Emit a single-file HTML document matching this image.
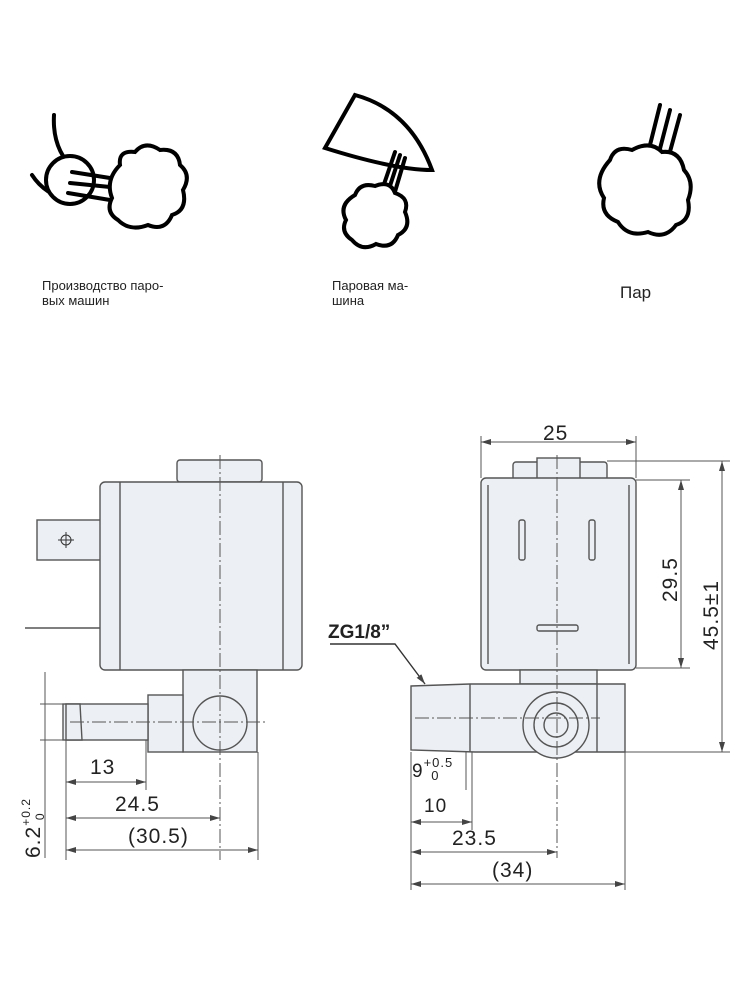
<!DOCTYPE html>
<html><head><meta charset="utf-8"><style>
body{margin:0;background:#fff;width:750px;height:1000px;overflow:hidden}
svg{display:block}
</style></head><body>
<svg width="750" height="1000" viewBox="0 0 750 1000" xmlns="http://www.w3.org/2000/svg" font-family="Liberation Sans, DejaVu Sans, sans-serif">
<defs>
<marker id="a" viewBox="0 0 10 6" refX="10" refY="3" markerWidth="10" markerHeight="6" markerUnits="userSpaceOnUse" orient="auto-start-reverse"><path d="M0 0L10 3L0 6Z" fill="#444"/></marker>
</defs>
<!-- icons -->
<g fill="none" stroke="#000" stroke-width="4" stroke-linecap="round">
<path d="M54 115 Q52 150 75 170"/>
<path d="M32 175 Q45 195 70 200"/>
<circle cx="70" cy="180" r="24" fill="#fff"/>
<path d="M72 172 L110 178 M70 183 L110 187 M68 193 L110 200"/>
<path d="M120 165 Q118 150 135 152 Q145 140 160 150 Q178 148 180 165 Q192 175 183 190 Q188 210 172 215 Q165 232 148 225 Q130 232 118 220 Q105 212 112 198 Q105 180 120 165Z" fill="#fff"/>
<path d="M355 95 Q410 110 432 170 Q395 170 325 148 Z" fill="#fff"/>
<path d="M395 152 L382 190 M400 155 L388 192 M405 158 L394 195"/>
<path d="M355 195 Q360 182 375 186 Q390 180 395 193 Q410 198 405 212 Q412 228 398 235 Q392 250 376 244 Q362 252 352 240 Q340 232 346 220 Q338 205 355 195Z" fill="#fff"/>
<path d="M660 105 L645 165 M670 110 L655 168 M680 115 L665 170" />
<path d="M610 160 Q615 145 632 150 Q650 140 662 152 Q680 150 684 170 Q695 182 688 200 Q692 220 676 225 Q665 240 648 232 Q628 238 618 222 Q600 215 604 198 Q592 180 610 160Z" fill="#fff"/>
</g>
<g font-size="13" fill="#222">
<text x="42" y="290">Производство паро-</text><text x="42" y="305">вых машин</text>
<text x="332" y="290">Паровая ма-</text><text x="332" y="305">шина</text>
<text x="620" y="298" font-size="17">Пар</text>
</g>
<!-- left drawing -->
<g stroke="#555" stroke-width="1.4" fill="#eceff4">
<rect x="177" y="460" width="85" height="22" rx="3"/>
<rect x="37" y="520" width="65" height="40"/>
<rect x="100" y="482" width="202" height="188" rx="5"/>
<line x1="120" y1="482" x2="120" y2="670"/><line x1="283" y1="482" x2="283" y2="670"/>
<line x1="25" y1="628" x2="100" y2="628"/>
<rect x="183" y="670" width="74" height="82"/>
<rect x="148" y="695" width="35" height="57"/>
<rect x="63" y="704" width="85" height="36"/>
<path d="M66 704 L80 704 L82 740 L66 740 Z"/>
<circle cx="220" cy="723" r="27"/>
</g>
<circle cx="66" cy="540" r="5" fill="none" stroke="#333"/>
<path d="M58 540H74M66 532V548" stroke="#333"/>
<g stroke="#555" stroke-width="1" fill="none">
<line x1="220" y1="455" x2="220" y2="860" stroke-dasharray="14 3 2 3"/>
<line x1="70" y1="722" x2="265" y2="722" stroke-dasharray="14 3 2 3"/>
<line x1="45" y1="672" x2="45" y2="858"/>
<line x1="40" y1="704" x2="63" y2="704"/><line x1="40" y1="740" x2="63" y2="740"/>
<line x1="66" y1="740" x2="66" y2="860"/><line x1="146" y1="740" x2="146" y2="790"/><line x1="258" y1="752" x2="258" y2="860"/>
<line x1="66" y1="782" x2="146" y2="782" marker-start="url(#a)" marker-end="url(#a)"/><line x1="66" y1="818" x2="220" y2="818" marker-start="url(#a)" marker-end="url(#a)"/><line x1="66" y1="850" x2="258" y2="850" marker-start="url(#a)" marker-end="url(#a)"/>
</g>
<g font-size="21" fill="#222" letter-spacing="1">
<text x="90" y="774">13</text><text x="115" y="811">24.5</text><text x="128" y="843">(30.5)</text>
<text transform="translate(40,858) rotate(-90)">6.2<tspan font-size="12" dy="-10">+0.2</tspan><tspan font-size="12" dx="-22" dy="14">0</tspan></text>
</g>
<!-- right drawing -->
<g stroke="#555" stroke-width="1.4" fill="#eceff4">
<rect x="513" y="462" width="94" height="18" rx="3"/>
<rect x="537" y="458" width="43" height="22"/>
<rect x="481" y="478" width="155" height="192" rx="5"/>
<line x1="488" y1="485" x2="488" y2="664"/><line x1="629" y1="485" x2="629" y2="664"/>
<rect x="519" y="520" width="6" height="40" rx="2"/><rect x="589" y="520" width="6" height="40" rx="2"/>
<rect x="537" y="625" width="41" height="6" rx="2"/>
<rect x="520" y="670" width="77" height="14"/>
<path d="M411 686 L470 684 L597 684 L625 684 L625 752 L475 752 L411 750 Z"/>
<line x1="470" y1="684" x2="470" y2="752"/><line x1="597" y1="684" x2="597" y2="752"/>
<circle cx="556" cy="725" r="33"/><circle cx="556" cy="725" r="22"/><circle cx="556" cy="725" r="12"/>
</g>
<g stroke="#555" stroke-width="1" fill="none">
<line x1="557" y1="455" x2="557" y2="858" stroke-dasharray="14 3 2 3"/>
<line x1="415" y1="718" x2="600" y2="718" stroke-dasharray="14 3 2 3"/>
<line x1="481" y1="436" x2="481" y2="478"/><line x1="636" y1="436" x2="636" y2="478"/>
<line x1="481" y1="442" x2="636" y2="442" marker-start="url(#a)" marker-end="url(#a)"/>
<line x1="636" y1="480" x2="690" y2="480"/><line x1="636" y1="668" x2="690" y2="668"/><line x1="681" y1="480" x2="681" y2="668" marker-start="url(#a)" marker-end="url(#a)"/>
<line x1="607" y1="461" x2="730" y2="461"/><line x1="625" y1="752" x2="730" y2="752"/><line x1="722" y1="461" x2="722" y2="752" marker-start="url(#a)" marker-end="url(#a)"/>
<line x1="411" y1="752" x2="411" y2="890"/><line x1="466" y1="752" x2="466" y2="790"/><line x1="472" y1="752" x2="472" y2="830"/><line x1="625" y1="752" x2="625" y2="890"/>
<line x1="411" y1="822" x2="472" y2="822" marker-start="url(#a)" marker-end="url(#a)"/><line x1="411" y1="852" x2="557" y2="852" marker-start="url(#a)" marker-end="url(#a)"/><line x1="411" y1="884" x2="625" y2="884" marker-start="url(#a)" marker-end="url(#a)"/>
<path d="M330 644 L395 644 L425 684" stroke="#333" stroke-width="1.4" marker-end="url(#a)"/>
</g>
<g font-size="21" fill="#222" letter-spacing="1">
<text x="543" y="440">25</text>
<text transform="translate(677,602) rotate(-90)">29.5</text>
<text transform="translate(718,650) rotate(-90)">45.5±1</text>
<text x="424" y="812" font-size="19">10</text>
<text x="452" y="845">23.5</text><text x="492" y="877">(34)</text>
<text x="412" y="777" font-size="19">9<tspan font-size="13" dy="-10">+0.5</tspan><tspan font-size="13" dx="-22" dy="13">0</tspan></text>
<text x="328" y="638" font-weight="bold" font-size="19" letter-spacing="0">ZG1/8”</text>
</g>
</svg>
</body></html>
